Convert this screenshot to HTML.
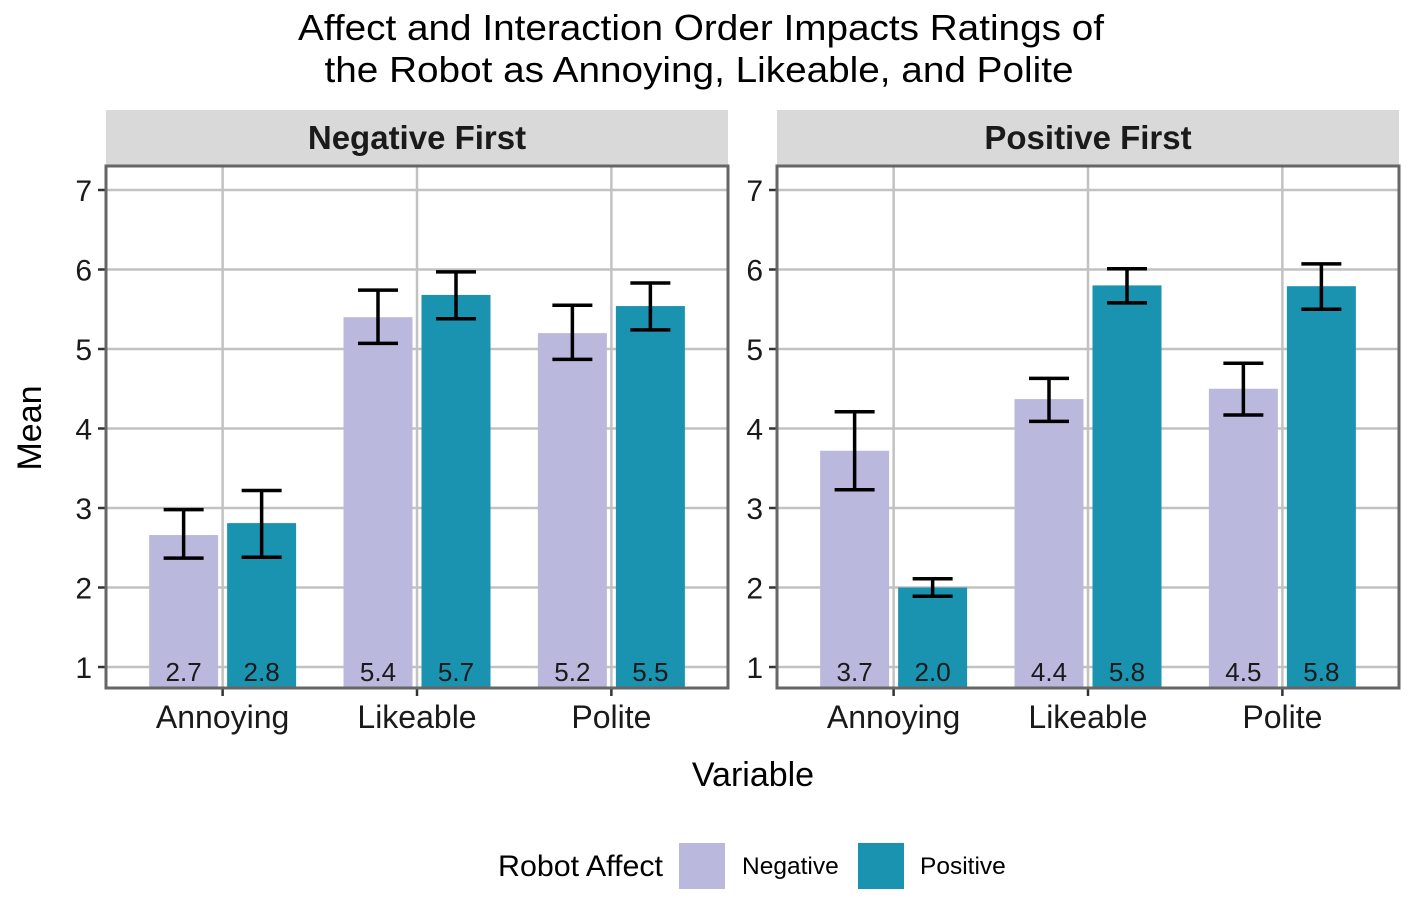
<!DOCTYPE html>
<html><head><meta charset="utf-8"><style>
body{margin:0;background:#fff;}
svg{display:block;font-family:"Liberation Sans",Arial,sans-serif;}
</style></head><body>
<svg id="chart" width="1414" height="920" viewBox="0 0 1414 920">
<text x="701" y="40" font-size="36" text-anchor="middle" textLength="806" lengthAdjust="spacingAndGlyphs" fill="#000">Affect and Interaction Order Impacts Ratings of</text>
<text x="699" y="82" font-size="36" text-anchor="middle" textLength="749" lengthAdjust="spacingAndGlyphs" fill="#000">the Robot as Annoying, Likeable, and Polite</text>
<text transform="translate(41,428) rotate(-90)" font-size="34" text-anchor="middle">Mean</text>
<text x="753" y="786" font-size="34" text-anchor="middle">Variable</text>
<g>
<text x="498" y="876" font-size="30" textLength="165" lengthAdjust="spacingAndGlyphs">Robot Affect</text>
<rect x="679" y="843" width="46" height="46" fill="#bbb8de"/>
<text x="742" y="874" font-size="24.5">Negative</text>
<rect x="858" y="843" width="46" height="46" fill="#1a93b0"/>
<text x="920" y="874" font-size="24.5">Positive</text>
</g>
<g id="panels"></g>
</svg>
<script>
const panels = ["Negative First","Positive First"];
const categories = ["Annoying","Likeable","Polite"];
const yTicks = [1,2,3,4,5,6,7];
const negMean = [[2.66,5.40,5.20],[3.72,4.37,4.50]];
const negLo = [[2.37,5.07,4.87],[3.23,4.09,4.17]];
const negHi = [[2.98,5.74,5.55],[4.21,4.63,4.82]];
const posMean = [[2.81,5.68,5.54],[2.00,5.80,5.79]];
const posLo = [[2.38,5.38,5.24],[1.89,5.58,5.50]];
const posHi = [[3.22,5.97,5.83],[2.11,6.01,6.07]];
const negLabels = [["2.7","5.4","5.2"],["3.7","4.4","4.5"]];
const posLabels = [["2.8","5.7","5.5"],["2.0","5.8","5.8"]];

const NS="http://www.w3.org/2000/svg";
const root=document.getElementById('panels');
function mk(tag,attrs,parent,text){const e=document.createElementNS(NS,tag);for(const k in attrs)e.setAttribute(k,attrs[k]);if(text!==undefined)e.textContent=text;parent.appendChild(e);return e;}
const plotTop=166,plotBottom=688;
function yScale(v){return 667-(v-1)*79.5;}
panels.forEach((pname,p)=>{
  const left = p===0?106:777, w=622;
  const g=mk('g',{},root);
  
  
  const strip=mk('rect',{x:left,y:110,width:w,height:56,fill:'#d9d9d9'},g);
  
  
  const st=mk('text',{x:left+w/2,y:149,'font-size':33,'font-weight':'bold','text-anchor':'middle',fill:'#1a1a1a'},g,pname);
  
  
  const cx=c=>left+(c+1-0.4)*(w/3.2);
  yTicks.forEach(t=>{
    const l=mk('line',{x1:left,x2:left+w,y1:yScale(t),y2:yScale(t),stroke:'#c2c2c2','stroke-width':2.5},g);
    
    
    mk('line',{x1:left-8,x2:left,y1:yScale(t),y2:yScale(t),stroke:'#333','stroke-width':2.5},g);
    const tl=mk('text',{x:left-14,y:yScale(t)+11,'font-size':30,'text-anchor':'end',fill:'#1a1a1a'},g,t);
    
    
  });
  categories.forEach((c,i)=>{
    const x=cx(i);
    const l=mk('line',{x1:x,x2:x,y1:plotTop,y2:plotBottom,stroke:'#c2c2c2','stroke-width':2.5},g);
    
    
    mk('line',{x1:x,x2:x,y1:plotBottom,y2:plotBottom+8,stroke:'#333','stroke-width':2.5},g);
    const xl=mk('text',{x:x,y:728,'font-size':32,'text-anchor':'middle',fill:'#1a1a1a'},g,c);
    
    
  });
  categories.forEach((c,i)=>{
    const x=cx(i);
    [[negMean,negLo,negHi,negLabels,'#bbb8de',-1,'negative'],[posMean,posLo,posHi,posLabels,'#1a93b0',1,'positive']].forEach(([m,lo,hi,lab,col,s,nm])=>{
      const c0=x+s*39;
      const v=m[p][i];
      const b=mk('rect',{x:c0-34.5,y:yScale(v),width:69,height:plotBottom-yScale(v),fill:col},g);
      
      
      const eg=mk('g',{stroke:'#000','stroke-width':3.5,fill:'none'},g);
      
      
      mk('line',{x1:c0,x2:c0,y1:yScale(lo[p][i]),y2:yScale(hi[p][i])},eg);
      mk('line',{x1:c0-20,x2:c0+20,y1:yScale(lo[p][i]),y2:yScale(lo[p][i])},eg);
      mk('line',{x1:c0-20,x2:c0+20,y1:yScale(hi[p][i]),y2:yScale(hi[p][i])},eg);
      const t=mk('text',{x:c0,y:681,'font-size':26,'text-anchor':'middle',fill:'#1a1a1a'},g,lab[p][i]);
      
      
    });
  });
  const br=mk('rect',{x:left,y:plotTop,width:w,height:plotBottom-plotTop,fill:'none',stroke:'#666','stroke-width':3},g);
  
  
});
</script>
</body></html>
